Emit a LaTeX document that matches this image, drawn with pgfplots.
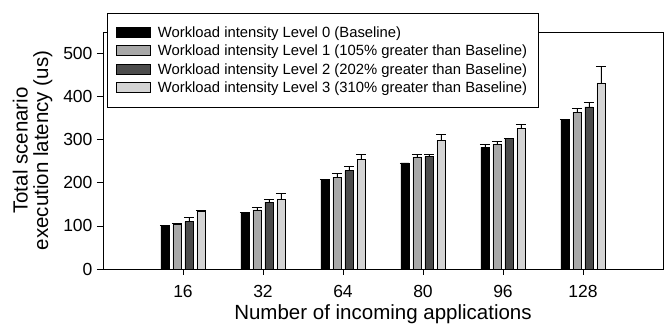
\documentclass[border=0pt]{standalone}
\usepackage{pgfplots}
\pgfplotsset{compat=1.18}
\usepackage{pgfplotstable}
\usepackage{fontspec}
\setmainfont{Liberation Sans}
\definecolor{lvlone}{HTML}{A8A8A8}
\definecolor{lvltwo}{HTML}{4C4C4C}
\definecolor{lvlthree}{HTML}{D4D4D4}
\pgfplotstableread{
x y e
1 101 0
2 132 0
3 207 0
4 246 0
5 282 6
6 348 0
}\lzero
\pgfplotstableread{
x y e
1 103 2
2 137 5
3 213 8
4 260 6
5 290 7
6 364 8
}\lone
\pgfplotstableread{
x y e
1 110 9
2 155 7
3 228 9
4 261 6
5 303 1
6 376 11
}\ltwo
\pgfplotstableread{
x y e
1 134 1
2 161 14
3 254 12
4 299 13
5 327 9
6 432 38
}\lthree
\begin{document}
\begin{tikzpicture}
\useasboundingbox (-103pt,-59pt) rectangle (567pt,269pt);
\begin{axis}[
  at={(0,0)}, anchor=south west,
  scale only axis,
  width=560pt, height=237pt,
  xmin=0, xmax=7, ymin=0, ymax=550,
  xtick={1,2,3,4,5,6},
  xticklabels={16,32,64,80,96,128},
  ytick={0,100,200,300,400,500},
  tick align=outside,
  major tick length=6pt,
  xtick pos=bottom, ytick pos=left,
  tick style={black, line width=0.8pt},
  axis line style={line width=0.8pt},
  ticklabel style={font=\fontsize{17.5}{19}\selectfont},
  xticklabel style={yshift=-7pt},
  yticklabel style={xshift=-1pt},
  /pgf/number format/assume math mode=true,
  xlabel={Number of incoming applications},
  ylabel={Total scenario\\execution latency (us)},
  ylabel style={align=center, font=\fontsize{20.5}{20.5}\selectfont, yshift=4pt},
  xlabel style={font=\fontsize{20.5}{22}\selectfont, yshift=0pt},
  ybar, bar width=8pt,
  legend cell align=left,
  legend style={at={(axis description cs:0.007,1.08)}, anchor=north west,
    font=\fontsize{14.8}{16}\selectfont, draw=black, line width=0.8pt,
    row sep=2.2pt, column sep=5pt, inner xsep=9pt, inner ysep=11pt, fill=white,
    nodes={inner ysep=2pt}},
  legend image code/.code={\draw[#1, line width=0.6pt] (0pt,-4.5pt) rectangle (34pt,5.5pt);},
  error bars/y dir=plus, error bars/y explicit,
  error bars/error bar style={black, line width=0.8pt},
  error bars/error mark options={black, line width=0.8pt, mark size=5pt, rotate=90},
]
\addplot[fill=black, draw=black, line width=0.6pt, bar shift=-18pt] table[x=x, y=y, y error=e] {\lzero};
\addplot[fill=lvlone, draw=black, line width=0.6pt, bar shift=-6pt] table[x=x, y=y, y error=e] {\lone};
\addplot[fill=lvltwo, draw=black, line width=0.6pt, bar shift=6pt] table[x=x, y=y, y error=e] {\ltwo};
\addplot[fill=lvlthree, draw=black, line width=0.6pt, bar shift=18pt] table[x=x, y=y, y error=e] {\lthree};
\legend{Workload intensity Level 0 (Baseline),
Workload intensity Level 1 (105\% greater than Baseline),
Workload intensity Level 2 (202\% greater than Baseline),
Workload intensity Level 3 (310\% greater than Baseline)}
\end{axis}
\end{tikzpicture}
\end{document}
